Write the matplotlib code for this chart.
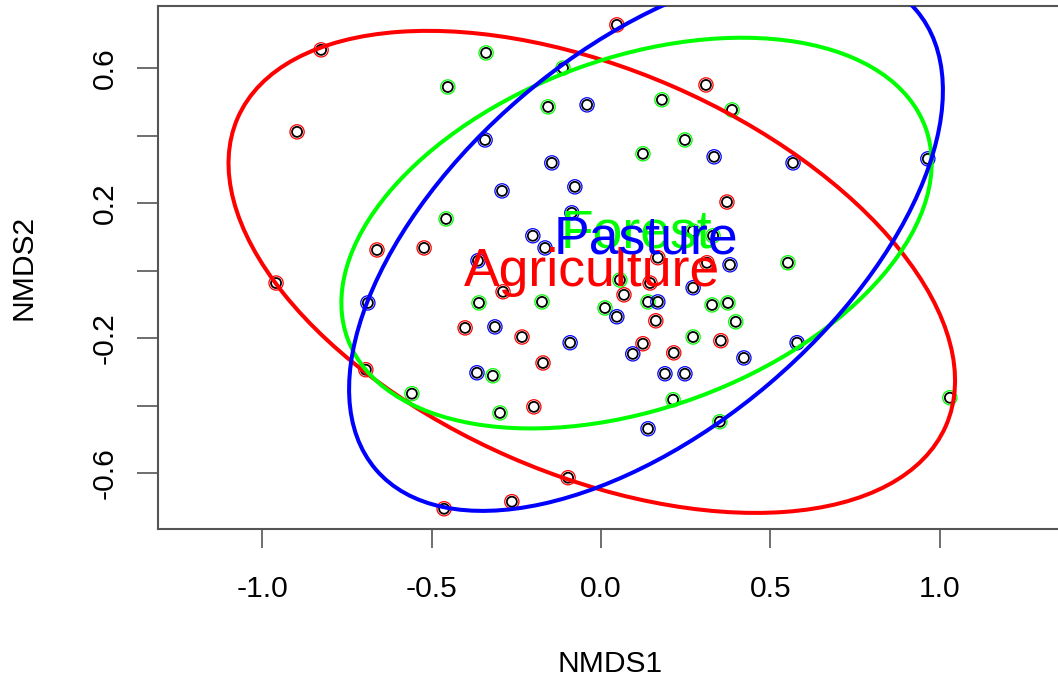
import matplotlib
matplotlib.use("Agg")
import matplotlib.pyplot as plt
from matplotlib.patches import Ellipse

# NMDS site scores per land-use group
agri_x = [-0.826, -0.897, -0.661, -0.522, 0.047, 0.310, 0.372, -0.959, -0.694, -0.463,
          -0.263, -0.097, -0.198, -0.401, -0.289, -0.233, -0.171, 0.068, 0.145, 0.162,
          0.124, 0.215, 0.354, 0.168, 0.313]
agri_y = [0.655, 0.412, 0.062, 0.068, 0.729, 0.551, 0.204, -0.036, -0.293, -0.705,
          -0.684, -0.613, -0.403, -0.169, -0.062, -0.196, -0.273, -0.071, -0.036, -0.148,
          -0.216, -0.243, -0.207, 0.039, 0.024]

forest_x = [-0.339, -0.452, -0.112, -0.156, 0.180, 0.387, 0.248, 0.124, -0.457, 0.272,
            0.331, 0.552, 0.056, -0.360, -0.174, 0.012, 0.139, 0.328, 0.375, 0.398,
            0.272, -0.319, -0.558, -0.298, 0.213, 0.351, 1.030]
forest_y = [0.646, 0.545, 0.601, 0.486, 0.507, 0.477, 0.388, 0.347, 0.154, 0.118,
            0.104, 0.024, -0.027, -0.095, -0.092, -0.110, -0.092, -0.101, -0.095, -0.151,
            -0.196, -0.311, -0.364, -0.421, -0.382, -0.447, -0.376]

past_x = [-0.041, -0.342, -0.145, 0.334, 0.567, 0.965, -0.292, -0.077, -0.086, -0.201,
          -0.165, -0.363, 0.381, 0.272, -0.688, 0.047, 0.168, -0.313, -0.091, 0.094,
          0.422, 0.579, -0.366, 0.189, 0.248, 0.139]
past_y = [0.492, 0.388, 0.320, 0.338, 0.320, 0.332, 0.237, 0.249, 0.172, 0.104,
          0.068, 0.030, 0.018, -0.050, -0.095, -0.136, -0.092, -0.166, -0.213, -0.246,
          -0.258, -0.213, -0.302, -0.305, -0.305, -0.468]

groups = ["Agriculture", "Forest", "Pasture"]
group_cols = ["#FF0000", "#00FF00", "#0000FF"]

# ordiellipse results: centre, full width / height, rotation (deg)
ell_cx = [-0.027, 0.105, 0.133]
ell_cy = [-0.003, 0.112, 0.092]
ell_w = [2.281, 1.817, 2.097]
ell_h = [1.199, 1.037, 1.121]
ell_ang = [-23.6, 20.2, 40.5]

plt.rcParams["font.family"] = ["Liberation Sans", "DejaVu Sans"]

fig = plt.figure(figsize=(10.58, 6.81), dpi=100)
ax = fig.add_axes([158 / 1058, 152 / 681, 904 / 1058, 523 / 681])
ax.set_xlim(-1.3075, 1.361)
ax.set_ylim(-0.765, 0.785)

xs = [agri_x, forest_x, past_x]
ys = [agri_y, forest_y, past_y]

# sites: black open circle with group colour ring
for gx, gy, col in zip(xs, ys, group_cols):
    ax.scatter(gx, gy, s=52, facecolors="none", edgecolors="black", linewidths=1.3, zorder=2)
    ax.scatter(gx, gy, s=105, facecolors="none", edgecolors=col, linewidths=0.9, zorder=2)

for i, col in enumerate(group_cols):
    e = Ellipse((ell_cx[i], ell_cy[i]), ell_w[i], ell_h[i], angle=ell_ang[i],
                fill=False, edgecolor=col, linewidth=2.9, zorder=3)
    ax.add_patch(e)

for i, name in enumerate(groups):
    ax.text(ell_cx[i], ell_cy[i], name, color=group_cols[i], fontsize=38.5,
            ha="center", va="center", zorder=4)

for side in ["top", "bottom", "left", "right"]:
    ax.spines[side].set_color("#555555")
    ax.spines[side].set_linewidth(1.5)

ax.set_xticks([-1.0, -0.5, 0.0, 0.5, 1.0])
ax.set_xticklabels(["-1.0", "-0.5", "0.0", "0.5", "1.0"])
ax.set_yticks([-0.6, -0.4, -0.2, 0.0, 0.2, 0.4, 0.6])
ax.set_yticklabels(["-0.6", "", "-0.2", "", "0.2", "", "0.6"], rotation=90, va="center")
ax.tick_params(axis="x", length=14, width=1.2, color="#555555", labelsize=21.6, pad=19)
ax.tick_params(axis="y", length=15, width=1.2, color="#555555", labelsize=21.6, pad=13)

fig.text(610 / 1058, 1 - 664 / 681, "NMDS1", ha="center", va="center", fontsize=21.6)
fig.text(23.5 / 1058, 1 - 267 / 681, "NMDS2", ha="center", va="center", fontsize=21.6,
         rotation=90)

fig.savefig("out.png", dpi=100)
